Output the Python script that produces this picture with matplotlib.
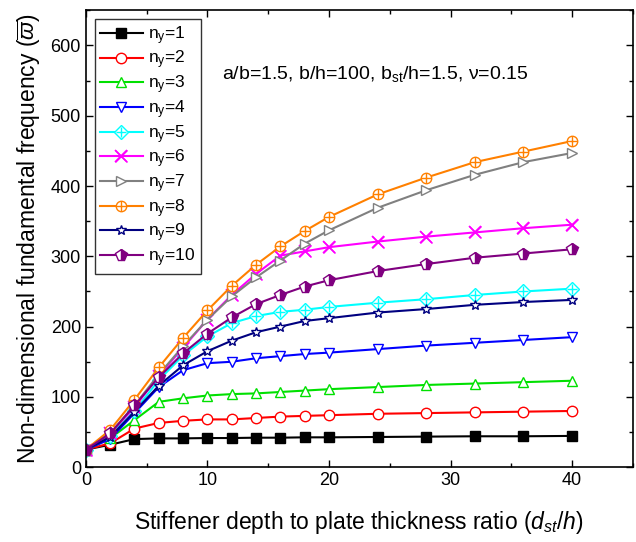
import matplotlib
matplotlib.use('Agg')
import matplotlib.pyplot as plt
from matplotlib.ticker import MultipleLocator
from matplotlib.legend_handler import HandlerTuple

plt.rcParams['font.family'] = ['Liberation Sans', 'DejaVu Sans']
plt.rcParams['mathtext.fontset'] = 'custom'
plt.rcParams['mathtext.rm'] = 'Liberation Sans'
plt.rcParams['mathtext.it'] = 'Liberation Sans:italic'

# stiffener depth ratio d_st/h
d_ratio = [0, 2, 4, 6, 8, 10, 12, 14, 16, 18, 20, 24, 28, 32, 36, 40]

# non-dimensional frequency for each n_y
ny1 = [25, 32, 40, 41, 41, 41.5, 41.5, 42, 42, 42.5, 42.5, 43, 43.5, 44, 44, 44.5]
ny2 = [25, 34, 55, 63, 66, 68, 68, 70, 72, 73, 74, 76, 77, 78, 79, 80]
ny3 = [25, 41, 67, 93, 98, 102, 104, 105, 107, 109, 111, 114, 117, 119, 121, 123]
ny4 = [25, 40, 77, 114, 138, 148, 150, 155, 158, 161, 163, 168, 173, 177, 181, 185]
ny5 = [25, 45, 80, 124, 159, 186, 205, 215, 221, 224, 228, 234, 239, 245, 250, 254]
ny6 = [25, 48, 85, 130, 170, 210, 245, 275, 301, 307, 313, 321, 328, 334, 340, 345]
ny7 = [25, 48, 88, 132, 172, 210, 243, 270, 294, 318, 337, 369, 394, 416, 434, 447]
ny8 = [25, 53, 96, 142, 184, 223, 258, 288, 314, 336, 356, 388, 412, 434, 449, 464]
ny9 = [25, 43, 79, 116, 145, 165, 180, 192, 200, 208, 212, 220, 225, 231, 235, 238]
ny10 = [25, 48, 88, 128, 162, 190, 213, 232, 245, 257, 266, 279, 289, 298, 304, 310]

series = [ny1, ny2, ny3, ny4, ny5, ny6, ny7, ny8, ny9, ny10]
labels = [r'n$_\mathrm{y}$=%d' % i for i in range(1, 11)]
colors = ['black', 'red', '#00e000', 'blue', 'cyan', 'magenta', 'gray',
          '#ff8000', '#000080', '#800080']
markers = ['s', 'o', '^', 'v', 'D', 'x', '>', 'o', '*', 'p']
overlay = [None, None, None, None, '+', 'x', None, '+', None, None]

fig = plt.figure(figsize=(6.36, 5.42), dpi=100)
ax = fig.add_axes([0.135, 0.138, 0.860, 0.843])

handles = []
for y, lab, c, m, ov in zip(series, labels, colors, markers, overlay):
    kw = dict(color=c, lw=1.5, marker=m, ms=7.5, mec=c, mew=1.0)
    if m == 's':
        kw['mfc'] = c
    elif m == 'p':
        kw.update(mfc=c, fillstyle='right', mfcalt='white', ms=8.5)
    elif m == 'x':
        kw.update(ms=8, mew=1.2)
    else:
        kw['mfc'] = 'white'
    ln, = ax.plot(d_ratio, y, **kw)
    if ov is not None:
        ms_ov = 9 if ov == 'x' else 7.5
        lo, = ax.plot(d_ratio, y, ls='none', marker=ov, ms=ms_ov, color=c, mew=1.0)
        handles.append((ln, lo))
    else:
        handles.append(ln)

ax.set_xlim(0, 45)
ax.set_ylim(0, 650)
ax.xaxis.set_major_locator(MultipleLocator(10))
ax.xaxis.set_minor_locator(MultipleLocator(5))
ax.yaxis.set_major_locator(MultipleLocator(100))
ax.yaxis.set_minor_locator(MultipleLocator(50))
ax.set_xticks([0, 10, 20, 30, 40])
ax.set_yticks([0, 100, 200, 300, 400, 500, 600])
ax.tick_params(which='both', direction='in', top=True, right=True, labelsize=13)
ax.tick_params(which='major', length=5, width=1)
ax.tick_params(which='minor', length=3, width=1)
for s in ax.spines.values():
    s.set_linewidth(1.2)

ax.set_xlabel('Stiffener depth to plate thickness ratio ($d_{st}$/$h$)', fontsize=16.5, labelpad=14)
ax.set_ylabel(r'Non-dimensional fundamental frequency ($\overline{\varpi}$)', fontsize=16.5, labelpad=6)

ax.text(11.2, 560, r'a/b=1.5, b/h=100, b$_\mathrm{st}$/h=1.5, $\mathrm{\nu}$=0.15', fontsize=14, va='center')

leg = ax.legend(handles, labels, loc='upper left', bbox_to_anchor=(0.0, 1.0),
                fontsize=12.5, frameon=True, fancybox=False, edgecolor='black',
                labelspacing=0.12, handlelength=2.5, borderpad=0.3, handletextpad=0.3,
                handler_map={tuple: HandlerTuple(ndivide=1)})
leg.get_frame().set_linewidth(1.0)

fig.savefig('out.png', dpi=100)
